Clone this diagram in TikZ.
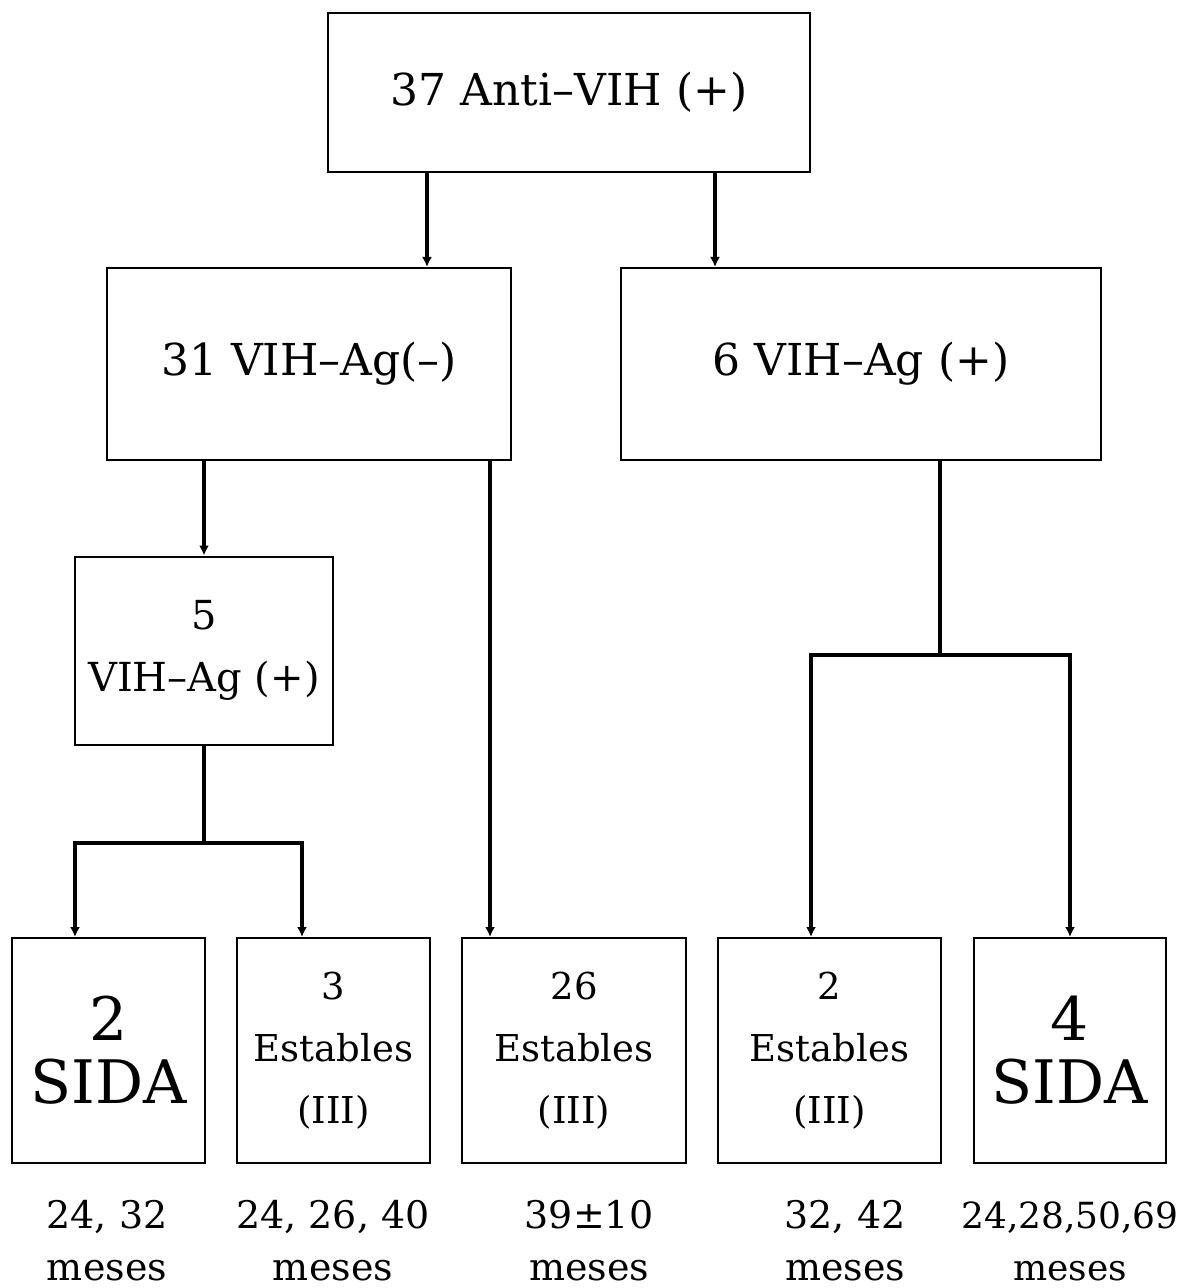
\documentclass[tikz,border=0pt]{standalone}
\usepackage{fontspec}
\setmainfont{DejaVu Serif}
\usepackage{tikz}
\usetikzlibrary{arrows.meta,calc,positioning}

\begin{document}
\begin{tikzpicture}[x=0.5pt, y=-0.5pt,
  box/.style={draw, line width=1pt, inner sep=0pt, align=center},
  arr/.style={line width=2pt, -{Latex[length=5pt,width=5pt]}},
  conn/.style={line width=2pt},
  big/.style={font=\fontsize{22}{29}\selectfont},
  mid/.style={font=\fontsize{20}{31}\selectfont},
  sida/.style={font=\fontsize{30}{31.5}\selectfont},
  est/.style={font=\fontsize{18.5}{31}\selectfont},
  lab/.style={font=\fontsize{19}{26}\selectfont, align=center}]

\useasboundingbox (0,0) rectangle (1184,1288);

% primer nivel
\node[box, big, minimum width=241pt, minimum height=79.5pt] (anti) at (569,92.5) {37 Anti--VIH (+)};

% segundo nivel
\node[box, big, minimum width=202pt, minimum height=96pt] (agneg) at (309,364) {31 VIH--Ag(--)};
\node[box, big, minimum width=240pt, minimum height=96pt] (agpos) at (861,364) {6 VIH--Ag (+)};
\draw[arr] (anti.south -| 427,0) -- (agneg.north -| 427,0);
\draw[arr] (anti.south -| 715,0) -- (agpos.north -| 715,0);

% tercer nivel
\node[box, mid, minimum width=129pt, minimum height=94pt] (ag5) at (204,650.5) {5\\VIH--Ag (+)};
\draw[arr] (agneg.south -| ag5.north) -- (ag5.north);

% cajas finales
\node[box, sida, minimum width=96.5pt, minimum height=112.5pt] (sida2) at (108.5,1050.5) {2\\SIDA};
\node[box, est, minimum width=96.5pt, minimum height=112.5pt] (est3) at (333.5,1050.5) {3\\Estables\\(III)};
\node[box, est, minimum width=112pt, minimum height=112.5pt] (est26) at (574,1050.5) {26\\Estables\\(III)};
\node[box, est, minimum width=111.5pt, minimum height=112.5pt] (est2) at (829.5,1050.5) {2\\Estables\\(III)};
\node[box, sida, minimum width=96pt, minimum height=112.5pt] (sida4) at (1070,1050.5) {4\\SIDA};

% conexiones
\coordinate (splitA) at (ag5.south |- 0,843);
\draw[conn] (ag5.south) -- (splitA);
\draw[arr] (splitA) -| (sida2.north -| 75,0);
\draw[arr] (splitA) -| (est3.north -| 302,0);
\draw[arr] (agneg.south -| 490,0) -- (est26.north -| 490,0);
\coordinate (splitB) at (940,655);
\draw[conn] (agpos.south -| splitB) -- (splitB);
\draw[arr] (splitB) -| (est2.north -| 811,0);
\draw[arr] (splitB) -| (sida4.north -| 1070,0);

% meses
\node[lab] (m1) at (107,1241) {24, 32\\meses};
\node[lab] (m2) at (333,1241) {24, 26, 40\\meses};
\node[lab] (m3) at (589,1241) {39±10\\meses};
\node[lab] (m4) at (845,1241) {32, 42\\meses};
\node[lab, font=\fontsize{18}{26}\selectfont] (m5) at (1070,1241) {24,28,50,69\\meses};

\end{tikzpicture}
\end{document}
